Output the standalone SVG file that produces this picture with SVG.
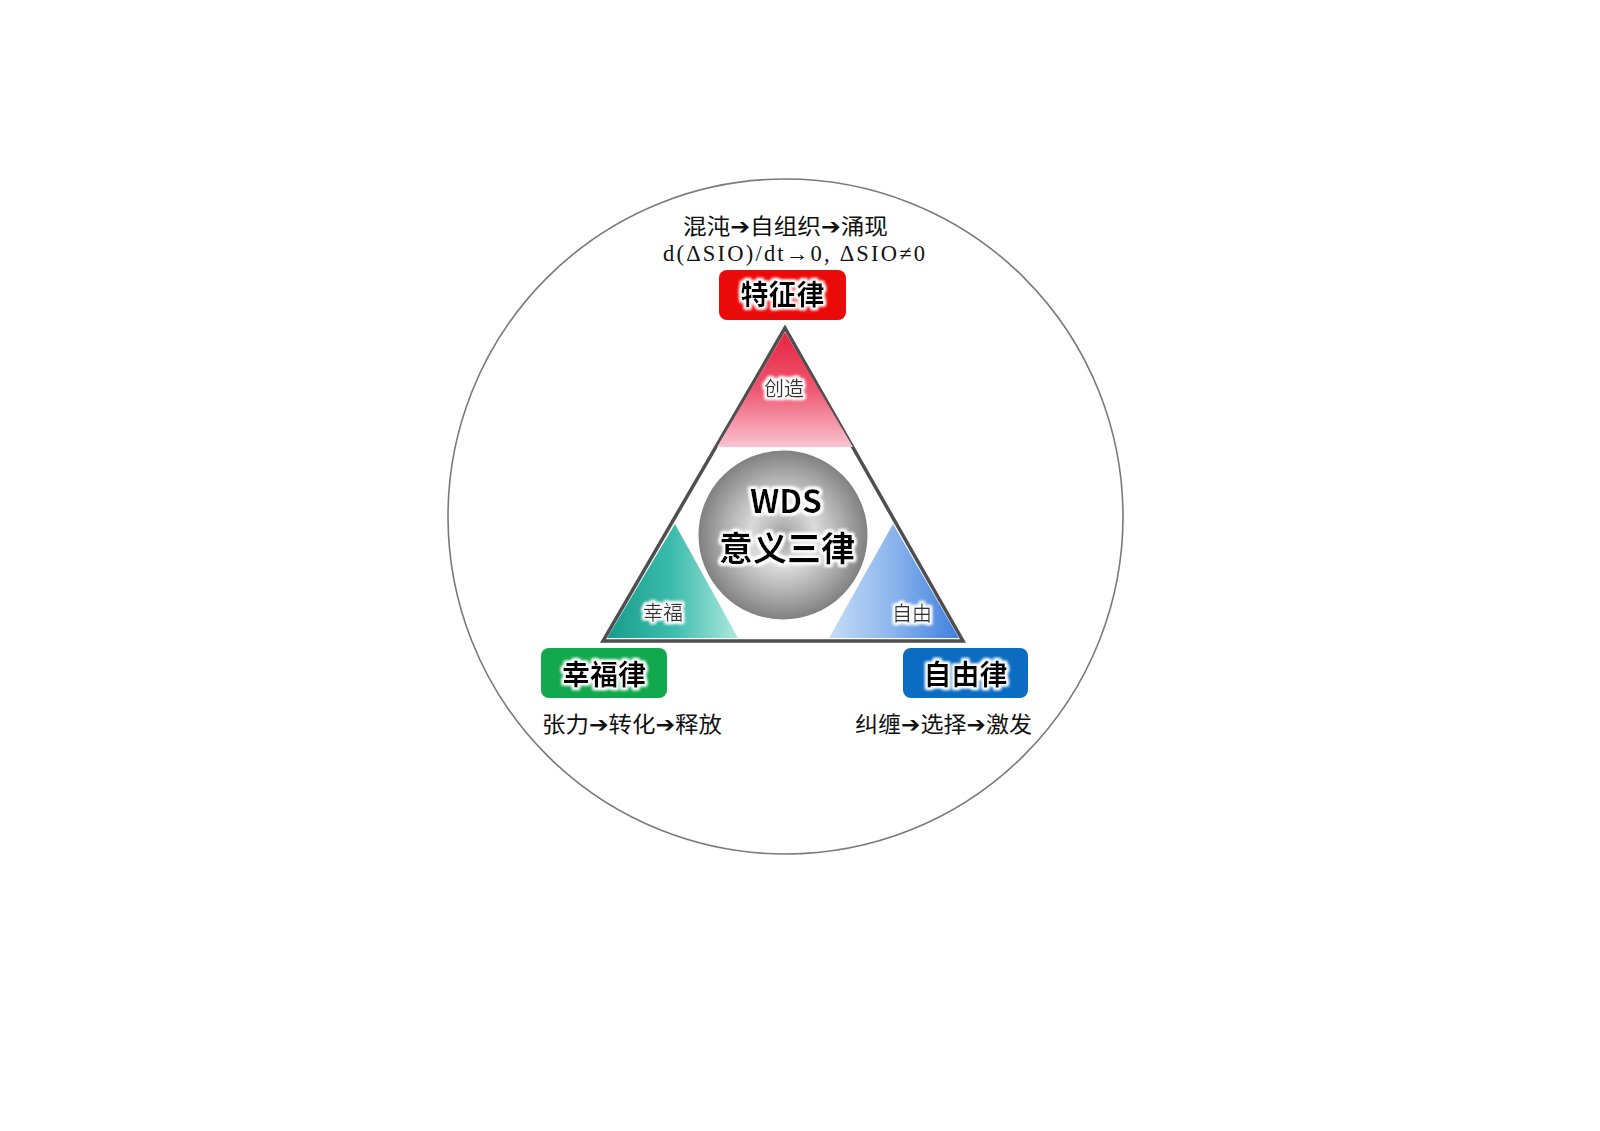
<svg xmlns="http://www.w3.org/2000/svg" width="1600" height="1131" viewBox="0 0 1600 1131">
  <defs>
    <style>
      .cap { font-family: "Noto Sans CJK SC", "Noto Sans", "DejaVu Sans", sans-serif; font-size: 22px; fill: #111; text-anchor: middle; }
      .formula { font-family: "Liberation Serif", "Noto Sans CJK SC", serif; font-size: 22.5px; fill: #111; text-anchor: middle; }
      .label { font-family: "Noto Sans CJK SC", "Noto Sans", sans-serif; font-size: 28px; font-weight: 700; fill: #000; text-anchor: middle; }
      .sub { font-family: "Noto Sans CJK SC", "Noto Sans", sans-serif; font-size: 20px; fill: #333; text-anchor: middle; }
      .core { font-family: "Noto Sans CJK SC", "Noto Sans", sans-serif; font-weight: 700; fill: #000; text-anchor: middle; }
    </style>
    <filter id="glow" x="-20%" y="-40%" width="140%" height="180%">
      <feMorphology in="SourceAlpha" operator="dilate" radius="2" result="d"/>
      <feGaussianBlur in="d" stdDeviation="1.6" result="b"/>
      <feFlood flood-color="#ffffff"/>
      <feComposite in2="b" operator="in" result="w"/>
      <feMerge>
        <feMergeNode in="w"/>
        <feMergeNode in="w"/>
        <feMergeNode in="SourceGraphic"/>
      </feMerge>
    </filter>
    <linearGradient id="gRed" x1="0" y1="0" x2="0" y2="1">
      <stop offset="0" stop-color="#e8223e"/>
      <stop offset="0.5" stop-color="#ee5872"/>
      <stop offset="1" stop-color="#f8c4d0"/>
    </linearGradient>
    <linearGradient id="gGreen" x1="0" y1="0" x2="1" y2="0">
      <stop offset="0" stop-color="#179c8c"/>
      <stop offset="0.5" stop-color="#3cbcac"/>
      <stop offset="1" stop-color="#aee9de"/>
    </linearGradient>
    <linearGradient id="gBlue" x1="0" y1="0" x2="1" y2="0">
      <stop offset="0" stop-color="#c6dcf6"/>
      <stop offset="0.5" stop-color="#8ab4ec"/>
      <stop offset="1" stop-color="#3f7fdf"/>
    </linearGradient>
    <radialGradient id="gCore" cx="0.5" cy="0.5" r="0.5">
      <stop offset="0" stop-color="#a0a0a0"/>
      <stop offset="0.38" stop-color="#dadada"/>
      <stop offset="0.7" stop-color="#acacac"/>
      <stop offset="1" stop-color="#7e7e7e"/>
    </radialGradient>
  </defs>

  <rect x="0" y="0" width="1600" height="1131" fill="#ffffff"/>

  <g id="outer-circle">
    <circle cx="785.5" cy="516.5" r="337.5" fill="none" stroke="#7a7a7a" stroke-width="1.6"/>
  </g>

  <g id="connectors">
    <path d="M785 328 L603 641 L963 641 Z" fill="#ffffff" stroke="#4f4f4f" stroke-width="3.5" stroke-linejoin="miter"/>
  </g>

  <g id="node-create">
    <path d="M785 332 L717 447 L853 447 Z" fill="url(#gRed)"/>
    <text class="sub" x="784" y="396" filter="url(#glow)">创造</text>
  </g>

  <g id="node-happy">
    <path d="M675 524 L607 638 L738 638 Z" fill="url(#gGreen)"/>
    <text class="sub" x="663" y="620" filter="url(#glow)">幸福</text>
  </g>

  <g id="node-free">
    <path d="M893 524 L829 638 L959 638 Z" fill="url(#gBlue)"/>
    <text class="sub" x="912" y="621" filter="url(#glow)">自由</text>
  </g>

  <g id="node-core">
    <circle cx="783" cy="535" r="86" fill="url(#gCore)" stroke="#ffffff" stroke-width="3"/>
    <text class="core" x="786" y="513" font-size="32" filter="url(#glow)">WDS</text>
    <text class="core" x="787" y="561" font-size="34" filter="url(#glow)">意义三律</text>
  </g>

  <g id="node-feature">
    <text class="cap" x="785.5" y="234" textLength="205" lengthAdjust="spacingAndGlyphs">混沌➔自组织➔涌现</text>
    <text class="formula" x="794" y="261" textLength="262" lengthAdjust="spacing">d(ΔSIO)/dt→0, ΔSIO≠0</text>
    <rect x="719" y="270" width="127" height="50" rx="8" fill="#ea0a0a"/>
    <text class="label" x="782.5" y="305" filter="url(#glow)">特征律</text>
  </g>

  <g id="node-happiness">
    <rect x="541" y="648" width="126" height="50" rx="8" fill="#12a84e"/>
    <text class="label" x="604" y="685" filter="url(#glow)">幸福律</text>
    <text class="cap" x="632" y="732" textLength="180" lengthAdjust="spacingAndGlyphs">张力➔转化➔释放</text>
  </g>

  <g id="node-freedom">
    <rect x="903" y="648" width="125" height="50" rx="8" fill="#0b6cc2"/>
    <text class="label" x="965.5" y="685" filter="url(#glow)">自由律</text>
    <text class="cap" x="943.5" y="732" textLength="177" lengthAdjust="spacingAndGlyphs">纠缠➔选择➔激发</text>
  </g>
</svg>
